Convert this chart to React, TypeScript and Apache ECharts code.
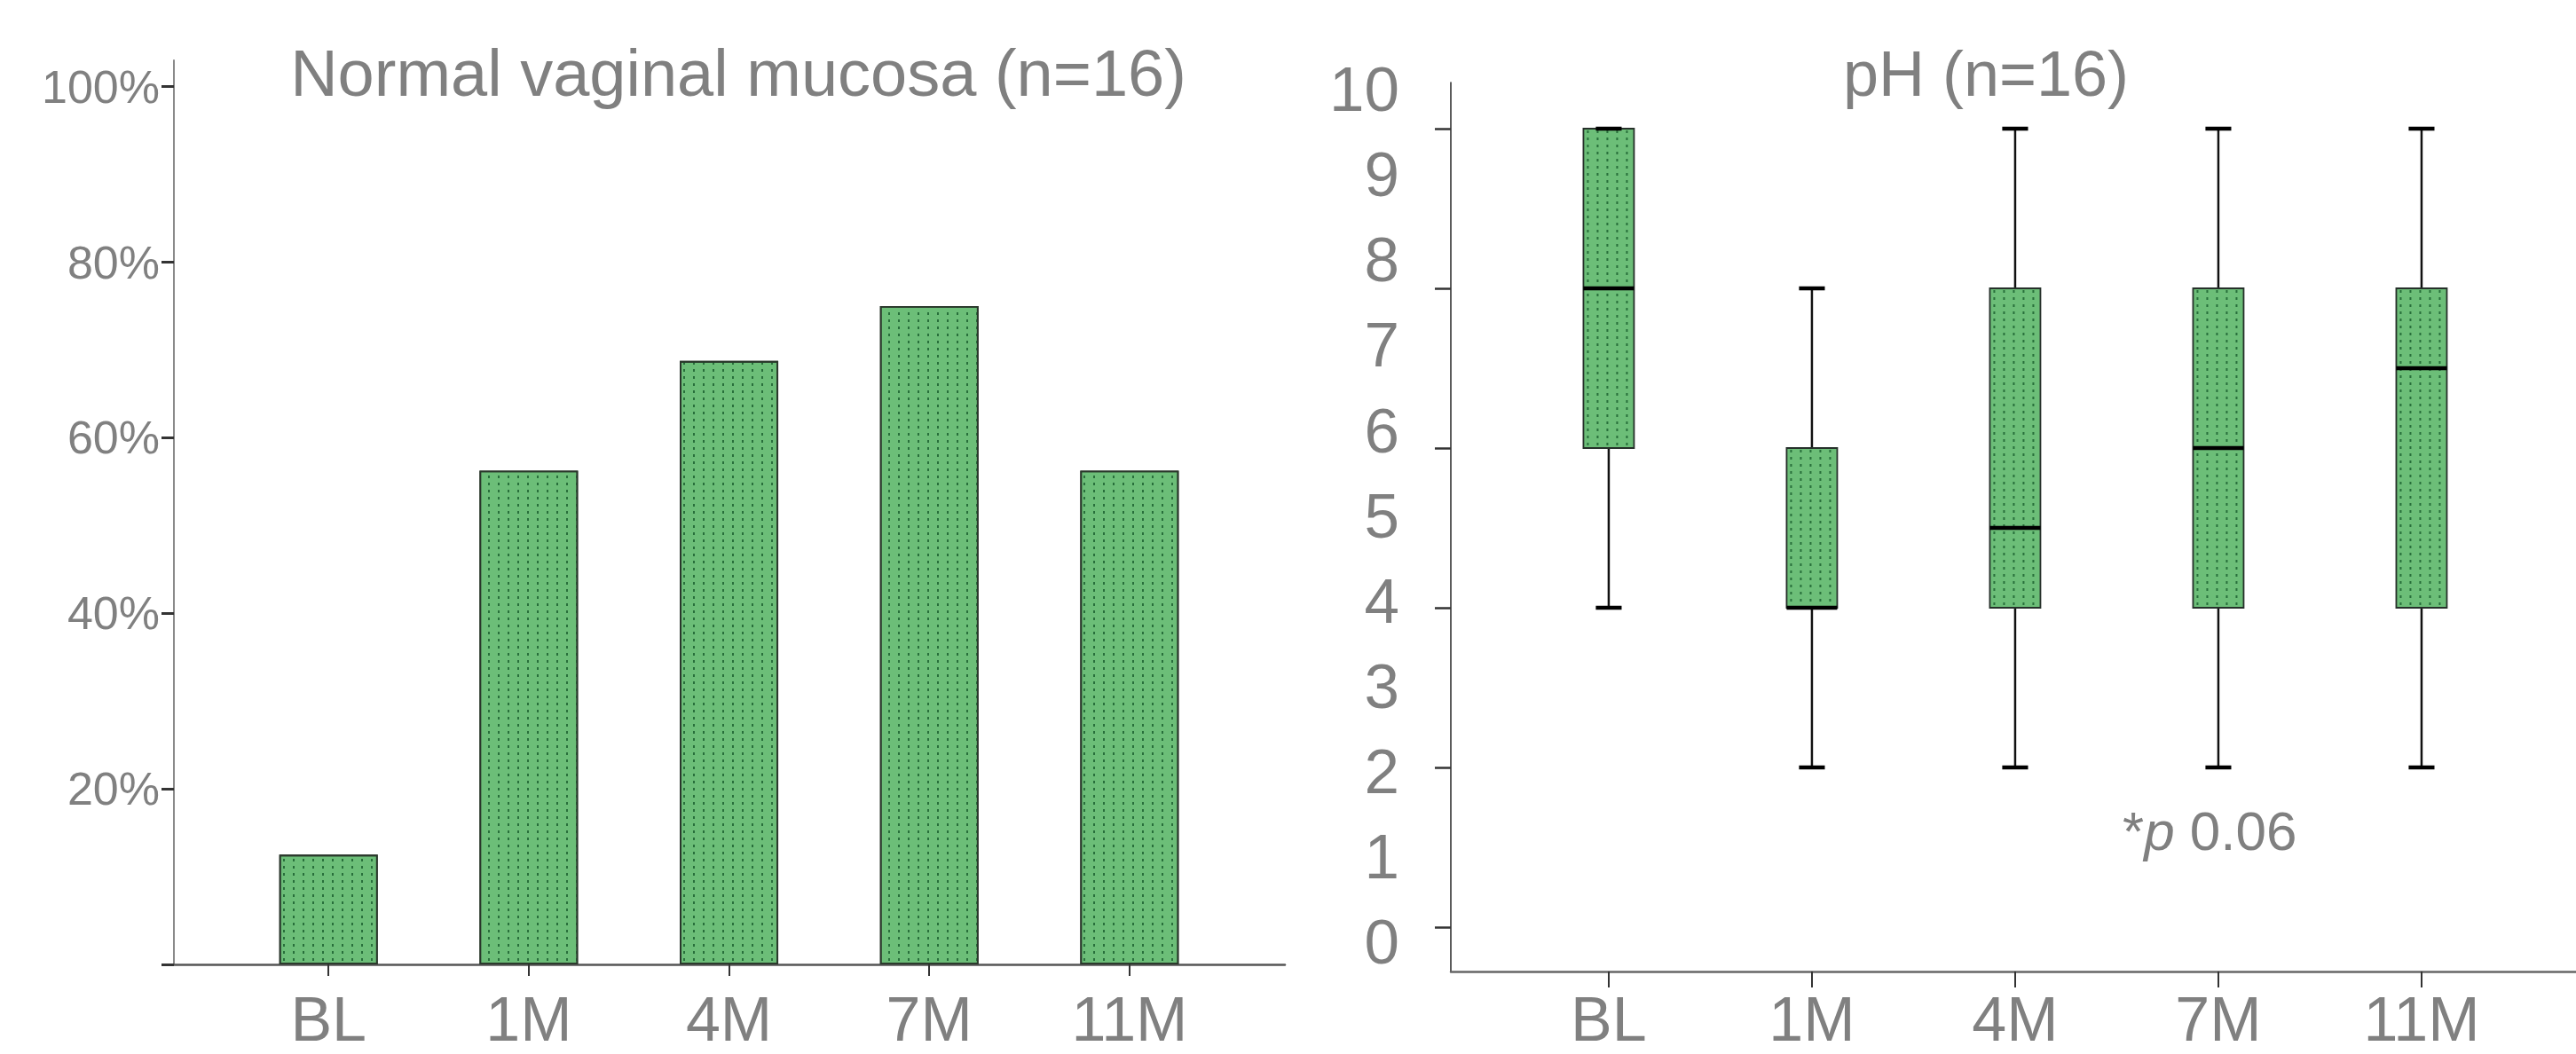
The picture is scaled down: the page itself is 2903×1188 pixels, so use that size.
import React, { useEffect, useRef } from 'react';
import * as echarts from 'echarts';

const categories = ['BL', '1M', '4M', '7M', '11M'];
const mucosaPercent = [12.5, 56.25, 68.75, 75, 56.25];
const mucosaTicks = [0, 20, 40, 60, 80, 100];
const phMin = [4, 2, 2, 2, 2];
const phQ1 = [6, 4, 4, 4, 4];
const phMedian = [8, 4, 5, 6, 7];
const phQ3 = [10, 6, 8, 8, 8];
const phMax = [10, 8, 10, 10, 10];
const phTicks = [0, 2, 4, 6, 8, 10];
const phLabels = [0, 1, 2, 3, 4, 5, 6, 7, 8, 9, 10];
const categoryPositions = [0, 1, 2, 3, 4];
const titles = ['Normal vaginal mucosa (n=16)', 'pH (n=16)'];
const pNote = '0.06';

const FONT = '"Liberation Sans", Arial, Helvetica, sans-serif';
const GRAY = '#808080';
const GREEN = '#6cbe78';
const DOT = 'rgba(28,98,48,0.85)';

export default function App() {
  const ref = useRef<HTMLDivElement>(null);
  useEffect(() => {
    if (!ref.current) return;
    const chart = echarts.init(ref.current, null, { renderer: 'svg' });

    const renderBox = (params: any, api: any) => {
      const x = api.value(0);
      const cx = api.coord([x, api.value(1)])[0];
      const yMin = api.coord([x, api.value(1)])[1];
      const yQ1 = api.coord([x, api.value(2)])[1];
      const yMed = api.coord([x, api.value(3)])[1];
      const yQ3 = api.coord([x, api.value(4)])[1];
      const yMax = api.coord([x, api.value(5)])[1];
      const unit = api.size([1, 0])[0];
      const bw = unit * 0.249;
      const cw = unit * 0.127;
      const left = cx - bw / 2;
      const children: any[] = [];
      children.push({ type: 'line', shape: { x1: cx, y1: yQ3, x2: cx, y2: yMax }, style: { stroke: '#111', lineWidth: 2.5 } });
      children.push({ type: 'line', shape: { x1: cx, y1: yQ1, x2: cx, y2: yMin }, style: { stroke: '#111', lineWidth: 2.5 } });
      children.push({ type: 'rect', shape: { x: left, y: yQ3, width: bw, height: yQ1 - yQ3 }, style: { fill: GREEN, stroke: null } });
      for (let dx = 5; dx < bw - 2; dx += 11) {
        children.push({ type: 'line', shape: { x1: left + dx, y1: yQ3 + 2, x2: left + dx, y2: yQ1 - 1 }, style: { stroke: DOT, lineWidth: 2, lineDash: [3, 5] } });
      }
      children.push({ type: 'rect', shape: { x: left, y: yQ3, width: bw, height: yQ1 - yQ3 }, style: { fill: null, stroke: '#26302a', lineWidth: 1.8 } });
      children.push({ type: 'line', shape: { x1: left, y1: yMed, x2: left + bw, y2: yMed }, style: { stroke: '#000', lineWidth: 4.5 } });
      children.push({ type: 'line', shape: { x1: cx - cw / 2, y1: yMin, x2: cx + cw / 2, y2: yMin }, style: { stroke: '#000', lineWidth: 4.5 } });
      children.push({ type: 'line', shape: { x1: cx - cw / 2, y1: yMax, x2: cx + cw / 2, y2: yMax }, style: { stroke: '#000', lineWidth: 4.5 } });
      return { type: 'group', children };
    };

    const option: any = {
      animation: false,
      backgroundColor: '#fff',
      grid: [
        { left: 196, top: 68, width: 1448 - 196, height: 1087 - 68 },
        { left: 1635, top: 93, width: 2903 - 1635, height: 1095 - 93 },
      ],
      xAxis: [
        {
          gridIndex: 0, type: 'value', min: -0.772, max: 4.776,
          splitLine: { show: false },
          axisLine: { show: true, onZero: false, lineStyle: { color: '#555', width: 2.5 } },
          axisTick: { show: true, customValues: categoryPositions, length: 13, lineStyle: { color: '#333', width: 2 } },
          axisLabel: { customValues: categoryPositions, formatter: (v: number) => categories[Math.round(v)] ?? '', margin: 33, fontSize: 70, lineHeight: 58, fontFamily: FONT, color: GRAY },
        },
        {
          gridIndex: 1, type: 'value', min: -0.777, max: 4.76,
          splitLine: { show: false },
          axisLine: { show: true, onZero: false, lineStyle: { color: '#666', width: 2.5 } },
          axisTick: { show: true, customValues: categoryPositions, length: 18, lineStyle: { color: '#333', width: 2 } },
          axisLabel: { customValues: categoryPositions, formatter: (v: number) => categories[Math.round(v)] ?? '', margin: 25, fontSize: 70, lineHeight: 58, fontFamily: FONT, color: GRAY },
        },
      ],
      yAxis: [
        {
          gridIndex: 0, type: 'value', min: 0, max: 103,
          splitLine: { show: false },
          axisLine: { show: true, onZero: false, lineStyle: { color: '#8a8a8a', width: 2 } },
          axisTick: { show: true, customValues: mucosaTicks, length: 14, lineStyle: { color: '#333', width: 3 } },
          axisLabel: { customValues: mucosaTicks, formatter: (v: number) => (v === 0 ? '' : v + '%'), margin: 16, fontSize: 52, fontFamily: FONT, color: GRAY },
        },
        {
          gridIndex: 1, type: 'value', min: -0.5556, max: 10.578,
          splitLine: { show: false },
          axisLine: { show: true, onZero: false, lineStyle: { color: '#333', width: 1.6 } },
          axisTick: { show: true, customValues: phTicks, length: 18, lineStyle: { color: '#333', width: 2.5 } },
          axisLabel: { show: false },
        },
        {
          gridIndex: 1, type: 'value', min: -0.347, max: 10.08, position: 'left',
          splitLine: { show: false },
          axisLine: { show: false },
          axisTick: { show: false },
          axisLabel: { customValues: phLabels, margin: 58, fontSize: 71, fontFamily: FONT, color: GRAY },
        },
      ],
      graphic: [
        { type: 'text', x: 832, y: 82, style: { text: titles[0], fontSize: 74, fontFamily: FONT, fill: GRAY, align: 'center', verticalAlign: 'middle' } },
        { type: 'text', x: 2238, y: 83, style: { text: titles[1], fontSize: 72, fontFamily: FONT, fill: GRAY, align: 'center', verticalAlign: 'middle' } },
        {
          type: 'text', x: 2392, y: 936,
          style: {
            text: '{n|*}{i|p}{n| ' + pNote + '}',
            fontSize: 62, fontFamily: FONT, fill: GRAY, align: 'left', verticalAlign: 'middle',
            rich: {
              n: { fontSize: 62, fontFamily: FONT, fill: GRAY },
              i: { fontSize: 62, fontFamily: FONT, fill: GRAY, fontStyle: 'italic' },
            },
          },
        },
      ],
      series: [
        {
          type: 'bar', xAxisIndex: 0, yAxisIndex: 0,
          data: categories.map((_, i) => [i, mucosaPercent[i]]),
          barWidth: 111,
          itemStyle: {
            color: GREEN, borderColor: '#2a372b', borderWidth: 1.8,
            decal: { symbol: 'rect', symbolSize: 1, symbolKeepAspect: false, dashArrayX: [2, 9], dashArrayY: [3, 5], color: DOT },
          },
        },
        {
          type: 'custom', xAxisIndex: 1, yAxisIndex: 1,
          data: categories.map((_, i) => [i, phMin[i], phQ1[i], phMedian[i], phQ3[i], phMax[i]]),
          encode: { x: 0, y: [1, 2, 3, 4, 5] },
          renderItem: renderBox,
        },
      ],
    };
    chart.setOption(option);
    return () => chart.dispose();
  }, []);
  return <div ref={ref} style={{ position: 'fixed', left: 0, top: 0, width: 2903, height: 1188, background: '#fff' }} />;
}
